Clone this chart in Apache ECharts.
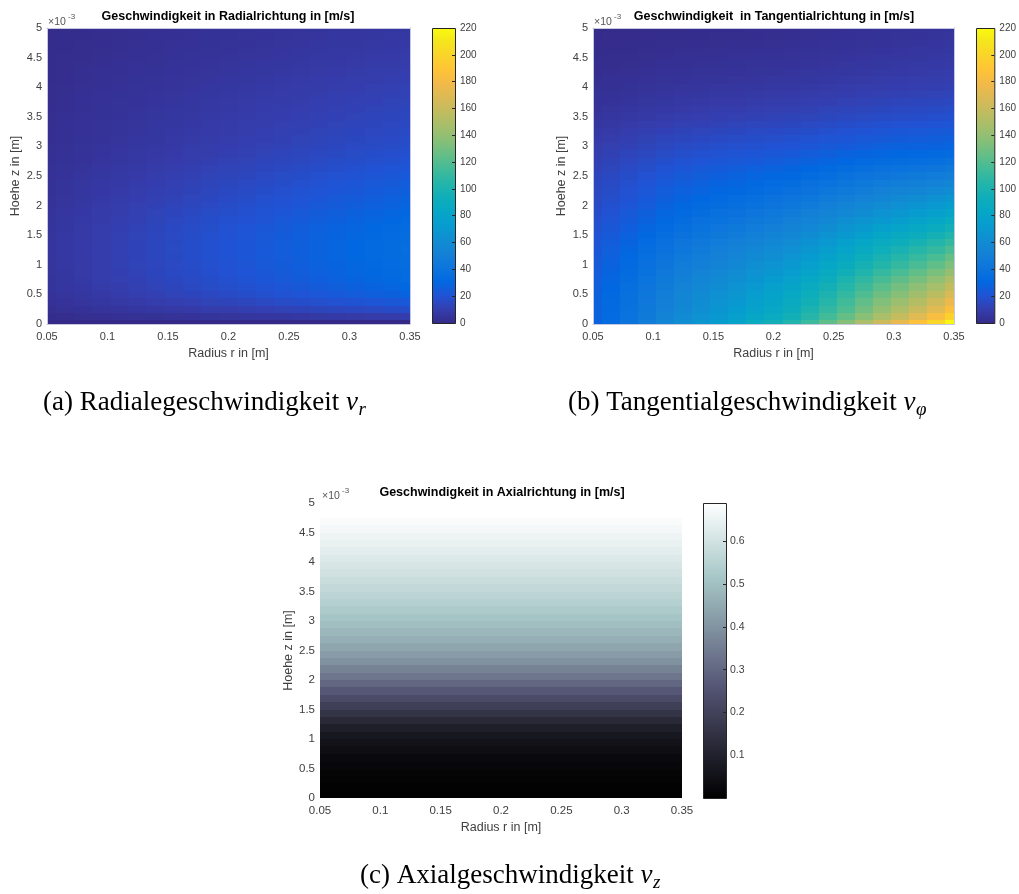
<!DOCTYPE html>
<html><head><meta charset="utf-8">
<script src="https://cdn.jsdelivr.net/npm/echarts@6/dist/echarts.min.js"></script>
<style>html,body{margin:0;padding:0;background:#fff}#c{width:1019px;height:894px}</style>
</head><body><div id="c"></div>
<script>
// ---- data ----
// shared grid for (a) and (b)
const rCols = [0.05,0.065,0.08,0.095,0.11,0.125,0.14,0.155,0.17,0.185,0.2,0.215,0.23,0.245,0.26,0.275,0.29,0.305,0.32,0.335,0.35];
const zRows = [0,0.125,0.25,0.375,0.5,0.625,0.75,0.875,1,1.125,1.25,1.375,1.5,1.625,1.75,1.875,2,2.125,2.25,2.375,2.5,2.625,2.75,2.875,3,3.125,3.25,3.375,3.5,3.625,3.75,3.875,4,4.125,4.25,4.375,4.5,4.625,4.75,4.875,5]; // x 1e-3 m

// (a) radial velocity v_r [m/s], one row per z (bottom to top)
const vRadial = [
 [0,0,0,0,0,0,0,0,0,0,0,0,0,0,0,0,0,0,0,0,0],
 [1.7,2.1,2.5,2.9,3.4,3.8,4.2,4.6,5,5.5,5.9,6.3,6.7,7.1,7.6,8,8.4,8.8,9.2,9.7,10.1],
 [3,3.8,4.5,5.3,6,6.8,7.5,8.3,9,9.8,10.5,11.3,12,12.8,13.5,14.3,15,15.8,16.5,17.3,18],
 [4,5,6,7,8,9,10.1,11.1,12.1,13.1,14.1,15.1,16.1,17.1,18.1,19.1,20.1,21.1,22.1,23.1,24.1],
 [4.8,6,7.2,8.4,9.6,10.8,12,13.2,14.4,15.6,16.8,18,19.2,20.4,21.6,22.8,24,25.2,26.4,27.6,28.8],
 [5.3,6.6,7.9,9.2,10.5,11.8,13.1,14.4,15.8,17.1,18.4,19.7,21,22.3,23.6,24.9,26.3,27.6,28.9,30.2,31.5],
 [5.6,7,8.4,9.8,11.2,12.6,14,15.3,16.7,18.1,19.5,20.9,22.3,23.7,25.1,26.5,27.9,29.3,30.7,32.1,33.5],
 [5.8,7.2,8.6,10.1,11.5,13,14.4,15.8,17.3,18.7,20.2,21.6,23,24.5,25.9,27.4,28.8,30.2,31.7,33.1,34.6],
 [5.9,7.4,8.8,10.3,11.8,13.2,14.7,16.2,17.6,19.1,20.6,22.1,23.5,25,26.5,27.9,29.4,30.9,32.3,33.8,35.3],
 [6,7.4,8.9,10.4,11.9,13.4,14.9,16.4,17.9,19.4,20.9,22.3,23.8,25.3,26.8,28.3,29.8,31.3,32.8,34.3,35.7],
 [6,7.5,9,10.5,12,13.5,15,16.5,18,19.5,21,22.5,24,25.5,27,28.5,30,31.5,33,34.5,36],
 [6,7.5,9,10.4,11.9,13.4,14.9,16.4,17.9,19.4,20.9,22.4,23.9,25.4,26.9,28.4,29.9,31.3,32.8,34.3,35.8],
 [5.9,7.4,8.8,10.3,11.8,13.2,14.7,16.2,17.6,19.1,20.6,22.1,23.5,25,26.5,27.9,29.4,30.9,32.3,33.8,35.3],
 [5.7,7.2,8.6,10,11.5,12.9,14.3,15.8,17.2,18.6,20.1,21.5,22.9,24.4,25.8,27.2,28.7,30.1,31.5,33,34.4],
 [5.5,6.9,8.3,9.7,11,12.4,13.8,15.2,16.6,17.9,19.3,20.7,22.1,23.5,24.8,26.2,27.6,29,30.4,31.7,33.1],
 [5.3,6.6,7.9,9.2,10.5,11.8,13.2,14.5,15.8,17.1,18.4,19.7,21,22.4,23.7,25,26.3,27.6,28.9,30.3,31.6],
 [5,6.2,7.5,8.7,10,11.2,12.5,13.7,14.9,16.2,17.4,18.7,19.9,21.2,22.4,23.7,24.9,26.1,27.4,28.6,29.9],
 [4.7,5.9,7.1,8.3,9.5,10.7,11.9,13,14.2,15.4,16.6,17.8,19,20.1,21.3,22.5,23.7,24.9,26.1,27.3,28.4],
 [4.5,5.6,6.8,7.9,9,10.1,11.3,12.4,13.5,14.6,15.8,16.9,18,19.1,20.3,21.4,22.5,23.6,24.8,25.9,27],
 [4.3,5.3,6.4,7.5,8.5,9.6,10.7,11.7,12.8,13.8,14.9,16,17,18.1,19.2,20.2,21.3,22.4,23.4,24.5,25.6],
 [4,5,6,7,8,9,10.1,11.1,12.1,13.1,14.1,15.1,16.1,17.1,18.1,19.1,20.1,21.1,22.1,23.1,24.1],
 [3.8,4.7,5.6,6.6,7.5,8.4,9.4,10.3,11.3,12.2,13.1,14.1,15,15.9,16.9,17.8,18.8,19.7,20.6,21.6,22.5],
 [3.5,4.4,5.2,6.1,7,7.8,8.7,9.6,10.4,11.3,12.2,13.1,13.9,14.8,15.7,16.5,17.4,18.3,19.1,20,20.9],
 [3.3,4.1,4.9,5.7,6.5,7.4,8.2,9,9.8,10.6,11.4,12.3,13.1,13.9,14.7,15.5,16.4,17.2,18,18.8,19.6],
 [3.1,3.8,4.6,5.4,6.1,6.9,7.7,8.4,9.2,9.9,10.7,11.5,12.2,13,13.8,14.5,15.3,16.1,16.8,17.6,18.4],
 [2.9,3.6,4.4,5.1,5.8,6.5,7.3,8,8.7,9.5,10.2,10.9,11.6,12.4,13.1,13.8,14.6,15.3,16,16.7,17.5],
 [2.8,3.5,4.1,4.8,5.5,6.2,6.9,7.6,8.3,9,9.7,10.4,11,11.7,12.4,13.1,13.8,14.5,15.2,15.9,16.6],
 [2.6,3.3,4,4.6,5.3,5.9,6.6,7.3,7.9,8.6,9.2,9.9,10.6,11.2,11.9,12.5,13.2,13.9,14.5,15.2,15.8],
 [2.5,3.2,3.8,4.4,5,5.7,6.3,6.9,7.6,8.2,8.8,9.5,10.1,10.7,11.3,12,12.6,13.2,13.9,14.5,15.1],
 [2.4,3,3.6,4.2,4.8,5.4,6,6.6,7.2,7.8,8.4,9,9.6,10.2,10.8,11.4,12,12.6,13.2,13.8,14.4],
 [2.3,2.9,3.4,4,4.6,5.1,5.7,6.3,6.8,7.4,8,8.6,9.1,9.7,10.3,10.8,11.4,12,12.5,13.1,13.7],
 [2.2,2.7,3.2,3.8,4.3,4.9,5.4,5.9,6.5,7,7.6,8.1,8.6,9.2,9.7,10.3,10.8,11.3,11.9,12.4,13],
 [2,2.6,3.1,3.6,4.1,4.6,5.1,5.6,6.1,6.6,7.1,7.7,8.2,8.7,9.2,9.7,10.2,10.7,11.2,11.7,12.2],
 [1.9,2.4,2.9,3.4,3.8,4.3,4.8,5.3,5.8,6.2,6.7,7.2,7.7,8.2,8.6,9.1,9.6,10.1,10.6,11,11.5],
 [1.8,2.3,2.7,3.2,3.6,4.1,4.5,5,5.4,5.9,6.3,6.8,7.2,7.7,8.1,8.6,9,9.5,9.9,10.4,10.8],
 [1.7,2.1,2.5,2.9,3.4,3.8,4.2,4.6,5,5.5,5.9,6.3,6.7,7.1,7.6,8,8.4,8.8,9.2,9.7,10.1],
 [1.6,2,2.3,2.7,3.1,3.5,3.9,4.3,4.7,5.1,5.5,5.9,6.2,6.6,7,7.4,7.8,8.2,8.6,9,9.4],
 [1.5,1.8,2.2,2.6,2.9,3.3,3.7,4,4.4,4.8,5.1,5.5,5.9,6.2,6.6,7,7.4,7.7,8.1,8.5,8.8],
 [1.4,1.7,2.1,2.4,2.8,3.1,3.5,3.8,4.1,4.5,4.8,5.2,5.5,5.9,6.2,6.6,6.9,7.2,7.6,7.9,8.3],
 [1.3,1.6,1.9,2.3,2.6,2.9,3.2,3.5,3.9,4.2,4.5,4.8,5.2,5.5,5.8,6.1,6.5,6.8,7.1,7.4,7.7],
 [1.2,1.5,1.8,2.1,2.4,2.7,3,3.3,3.6,3.9,4.2,4.5,4.8,5.1,5.4,5.7,6,6.3,6.6,6.9,7.2]
];

// (b) tangential velocity v_phi [m/s]
const vTangential = [
 [29,35,41.5,48.5,56,63,69,75,81,88,95,103,113,124,136,149,162,174,187,201,218],
 [28.5,34.1,40.2,46.7,53.7,60.1,65.6,71.0,76.4,82.7,89.0,96.2,105.2,115.0,125.8,137.4,148.9,159.4,170.8,183.1,198],
 [28,33.3,39.1,45.3,52.0,58.0,63.2,68.2,73.2,79.1,84.9,91.5,99.9,109.0,118.9,129.6,140.2,149.9,160.3,171.4,185],
 [27.8,32.9,38.5,44.6,50.9,56.8,61.7,66.4,71.2,76.7,82.2,88.5,96.4,105.0,114.4,124.4,134.3,143.3,153.0,163.3,176],
 [27.5,32.4,37.8,43.7,49.8,55.4,60.0,64.6,69.0,74.3,79.4,85.3,92.8,100.9,109.7,119.1,128.4,136.7,145.7,155.3,167],
 [26.8,31.5,36.7,42.3,48.2,53.5,57.9,62.2,66.4,71.4,76.3,81.8,88.9,96.5,104.8,113.7,122.4,130.2,138.6,147.5,158.5],
 [26,30.5,35.5,40.8,46.4,51.5,55.7,59.7,63.7,68.4,73.0,78.2,84.8,92.0,99.9,108.2,116.4,123.7,131.4,139.8,150],
 [25.3,29.6,34.4,39.4,44.8,49.6,53.6,57.4,61.1,65.5,69.8,74.7,80.9,87.7,95.0,102.8,110.4,117.1,124.3,132.0,141.5],
 [24.5,28.6,33.1,38.0,43.1,47.6,51.3,54.9,58.4,62.5,66.5,71.1,76.9,83.2,90.0,97.3,104.3,110.6,117.2,124.3,133],
 [23.8,27.7,32.0,36.7,41.5,45.9,49.4,52.7,56.0,59.9,63.6,67.9,73.4,79.3,85.7,92.4,99.0,104.8,110.9,117.4,125.5],
 [23,26.7,30.8,35.2,39.8,44.0,47.3,50.4,53.5,57.1,60.6,64.6,69.7,75.2,81.2,87.5,93.6,98.9,104.6,110.6,118],
 [22,25.5,29.4,33.6,37.9,41.8,44.9,47.8,50.7,54.1,57.3,61.1,65.8,71.0,76.5,82.4,88.0,92.9,98.1,103.7,110.5],
 [21,24.3,28.0,31.9,36.0,39.6,42.5,45.2,47.9,51.1,54.1,57.5,62.0,66.7,71.8,77.2,82.5,86.9,91.7,96.7,103],
 [20,23.1,26.5,30.2,34.1,37.4,40.1,42.7,45.1,48.0,50.8,54.0,58.1,62.4,67.1,72.1,76.9,81.0,85.3,89.8,95.5],
 [19,21.8,25.1,28.5,32.1,35.3,37.7,40.1,42.3,45.0,47.5,50.4,54.2,58.2,62.5,67.0,71.3,75.0,78.8,82.9,88],
 [18,20.7,23.7,26.9,30.3,33.2,35.5,37.7,39.7,42.2,44.5,47.2,50.6,54.3,58.3,62.4,66.4,69.7,73.2,76.9,81.5],
 [17,19.5,22.3,25.3,28.4,31.1,33.3,35.2,37.1,39.4,41.5,44.0,47.1,50.5,54.1,57.8,61.4,64.4,67.6,70.9,75],
 [16.2,18.5,21.2,24.0,26.9,29.4,31.3,33.1,34.8,36.9,38.8,41.0,43.8,46.8,50.1,53.5,56.6,59.3,62.0,64.9,68.5],
 [15.5,17.6,20.1,22.7,25.4,27.7,29.5,31.1,32.6,34.4,36.1,38.1,40.6,43.3,46.2,49.2,52.0,54.2,56.5,58.9,62],
 [14.8,16.8,19.1,21.5,24.0,26.1,27.7,29.2,30.5,32.2,33.7,35.4,37.7,40.0,42.6,45.2,47.6,49.5,51.4,53.4,56],
 [14,15.8,17.9,20.2,22.4,24.4,25.8,27.1,28.3,29.7,31.0,32.6,34.5,36.6,38.8,41.1,43.1,44.7,46.3,47.9,50],
 [13,14.6,16.6,18.6,20.7,22.4,23.7,24.8,25.9,27.2,28.3,29.6,31.4,33.2,35.1,37.0,38.8,40.1,41.4,42.8,44.5],
 [12,13.5,15.2,17.1,18.9,20.5,21.6,22.6,23.5,24.6,25.6,26.7,28.2,29.8,31.4,33.0,34.5,35.5,36.6,37.6,39],
 [11,12.3,13.9,15.6,17.2,18.6,19.6,20.5,21.3,22.3,23.1,24.1,25.4,26.8,28.2,29.6,30.8,31.7,32.5,33.4,34.5],
 [10,11.2,12.6,14.1,15.6,16.8,17.6,18.4,19.1,19.9,20.6,21.5,22.6,23.7,24.9,26.1,27.2,27.8,28.5,29.1,30],
 [9,10.1,11.3,12.7,14.0,15.1,15.9,16.6,17.2,17.9,18.6,19.3,20.3,21.4,22.5,23.5,24.4,25.1,25.6,26.2,27],
 [8,9.0,10.1,11.3,12.5,13.5,14.2,14.8,15.4,16.0,16.6,17.3,18.3,19.2,20.2,21.2,22.0,22.6,23.2,23.7,24.5],
 [7,7.8,8.9,9.9,11.0,11.9,12.5,13.0,13.6,14.2,14.7,15.3,16.2,17.0,17.9,18.8,19.7,20.2,20.7,21.3,22],
 [6,6.7,7.6,8.5,9.5,10.2,10.8,11.3,11.7,12.3,12.8,13.4,14.1,14.9,15.7,16.5,17.3,17.8,18.3,18.8,19.5],
 [5.2,5.9,6.6,7.4,8.2,8.9,9.4,9.9,10.3,10.8,11.2,11.8,12.4,13.1,13.9,14.6,15.3,15.8,16.3,16.8,17.5],
 [4.5,5.1,5.7,6.4,7.2,7.8,8.2,8.6,9.0,9.4,9.8,10.3,10.9,11.5,12.2,12.9,13.5,14.0,14.4,14.9,15.5],
 [3.9,4.4,5.0,5.6,6.2,6.8,7.2,7.5,7.8,8.2,8.6,9.0,9.5,10.1,10.7,11.3,11.9,12.3,12.7,13.1,13.7],
 [3.3,3.7,4.2,4.8,5.3,5.8,6.1,6.4,6.7,7.1,7.4,7.7,8.2,8.7,9.3,9.8,10.3,10.7,11.1,11.5,12],
 [2.8,3.2,3.6,4.1,4.6,5.0,5.3,5.6,5.8,6.2,6.4,6.8,7.2,7.7,8.2,8.7,9.2,9.6,10.0,10.4,10.9],
 [2.4,2.7,3.1,3.5,4.0,4.3,4.6,4.8,5.1,5.4,5.6,6.0,6.4,6.8,7.3,7.7,8.2,8.5,8.9,9.3,9.8],
 [2,2.3,2.6,3.0,3.4,3.7,3.9,4.2,4.4,4.7,4.9,5.2,5.6,6.0,6.4,6.8,7.3,7.6,8.0,8.4,8.9],
 [1.7,2.0,2.3,2.6,2.9,3.2,3.4,3.6,3.8,4.1,4.3,4.6,4.9,5.3,5.7,6.1,6.5,6.8,7.2,7.5,8],
 [1.4,1.6,1.9,2.1,2.4,2.7,2.9,3.1,3.3,3.5,3.7,3.9,4.3,4.6,5.0,5.3,5.7,6.0,6.4,6.8,7.2],
 [1.1,1.3,1.5,1.7,2.0,2.2,2.4,2.6,2.7,2.9,3.1,3.4,3.6,4.0,4.3,4.7,5.0,5.3,5.7,6.1,6.5],
 [0.8,1.0,1.1,1.3,1.5,1.7,1.9,2.1,2.2,2.4,2.6,2.8,3.1,3.4,3.7,4.1,4.5,4.8,5.2,5.5,6],
 [0.6,0.7,0.9,1.1,1.2,1.4,1.6,1.7,1.9,2.0,2.2,2.4,2.7,3.0,3.3,3.6,4.0,4.3,4.7,5.0,5.5]
];

// (c) axial velocity v_z [m/s] (same at every radius), rows centred at zAxial
const zAxial = [0.0625,0.1875,0.3125,0.4375,0.5625,0.6875,0.8125,0.9375,1.0625,1.1875,1.3125,1.4375,1.5625,1.6875,1.8125,1.9375,2.0625,2.1875,2.3125,2.4375,2.5625,2.6875,2.8125,2.9375,3.0625,3.1875,3.3125,3.4375,3.5625,3.6875,3.8125,3.9375,4.0625,4.1875,4.3125,4.4375,4.5625,4.6875];
const vAxial = [0.002,0.006,0.011,0.017,0.024,0.032,0.042,0.055,0.072,0.095,0.125,0.16,0.195,0.23,0.265,0.3,0.335,0.365,0.395,0.42,0.443,0.464,0.482,0.499,0.514,0.529,0.544,0.558,0.572,0.586,0.599,0.611,0.623,0.635,0.646,0.657,0.668,0.68];

const titles = ['Geschwindigkeit in Radialrichtung in [m/s]', 'Geschwindigkeit  in Tangentialrichtung in [m/s]', 'Geschwindigkeit in Axialrichtung in [m/s]'];
const captions = ['(a) Radialegeschwindigkeit ', '(b) Tangentialgeschwindigkeit ', '(c) Axialgeschwindigkeit '];
const captionSubs = ['r', 'φ', 'z'];
const xName = 'Radius r in [m]';
const yName = 'Hoehe z in [m]';

// ---- styles ----
const parula = ['#352a87','#353dad','#2053d4','#0268e1','#0d75dc','#1481d6','#108ed2','#079ccf','#06a7c6','#0faeb9','#25b5a9','#42bb98','#65be86','#87bf77','#a5be6b','#c0bc60','#d9ba56','#f1b94a','#ffc337','#fad32a','#f5e41d','#f9fb0e'];
const bone = ['#000000','#1c1c26','#38384d','#545474','#707a8f','#8ba1ab','#a7c7c7','#d3e3e3','#ffffff'];
const FS = '"Liberation Sans", Arial, sans-serif';
const SERIF = '"Liberation Serif", "Times New Roman", serif';
const LBL = '#404040';

function table2d(rows, rs, zs) {
  const out = [];
  rows.forEach((row, j) => row.forEach((v, k) => out.push([rs[k], zs[j], v])));
  return out;
}
const dataA = table2d(vRadial, rCols, zRows);
const dataB = table2d(vTangential, rCols, zRows);
const dataC = [];
zAxial.forEach((z, j) => rCols.forEach(r => dataC.push([r, z, vAxial[j]])));

function cells(dr, dz) {
  return function (params, api) {
    const r = api.value(0), z = api.value(1);
    const x0 = Math.max(0.05, r - dr / 2), x1 = Math.min(0.35, r + dr / 2);
    const y0 = Math.max(0, z - dz / 2), y1 = Math.min(5, z + dz / 2);
    const p0 = api.coord([x0, y0]), p1 = api.coord([x1, y1]);
    const L = Math.round(p0[0]), R = Math.round(p1[0]), T = Math.round(p1[1]), B = Math.round(p0[1]);
    return { type: 'rect', shape: { x: L, y: T, width: R - L, height: B - T },
      style: { fill: api.visual('color'), stroke: null } };
  };
}
function colorbar(stops) {
  return function (params, api) {
    const cs = params.coordSys;
    return { type: 'rect', shape: { x: cs.x + 0.5, y: cs.y + 0.5, width: cs.width, height: cs.height },
      style: { fill: new echarts.graphic.LinearGradient(0, 1, 0, 0, stops.map((c, i) => ({ offset: i / (stops.length - 1), color: c }))),
        stroke: '#262626', lineWidth: 1 } };
  };
}

const grids = [
  { left: 47, top: 28, width: 363, height: 296 },
  { left: 432, top: 28, width: 23, height: 295 },
  { left: 593, top: 28, width: 361, height: 296 },
  { left: 976, top: 28, width: 23, height: 295 },
  { left: 320, top: 503, width: 362, height: 295 },
  { left: 703, top: 503, width: 23, height: 295 }
];
const BOX = '#c6c8e2';

function plotX(gi, lineOn, fs) {
  return {
    gridIndex: gi, type: 'value', min: 0.05, max: 0.35, interval: 0.05, z: 10,
    name: xName, nameLocation: 'middle', nameGap: 23,
    nameTextStyle: { fontSize: 12.5, color: LBL, fontFamily: FS },
    axisLine: { show: lineOn, onZero: false, lineStyle: { color: BOX, width: 1 } }, axisTick: { show: false },
    axisLabel: { fontSize: fs, color: LBL, fontFamily: FS, margin: 7 }, splitLine: { show: false }
  };
}
function plotY(gi, lineOn, fs) {
  return {
    gridIndex: gi, type: 'value', min: 0, max: 5, interval: 0.5, z: 10,
    name: yName, nameLocation: 'middle', nameGap: 25,
    nameTextStyle: { fontSize: 12.5, color: LBL, fontFamily: FS },
    axisLine: { show: lineOn, onZero: false, lineStyle: { color: BOX, width: 1 } }, axisTick: { show: false },
    axisLabel: { fontSize: fs, color: LBL, fontFamily: FS, margin: 5 }, splitLine: { show: false }
  };
}
function boxX(gi) { return { gridIndex: gi, type: 'value', min: 0.05, max: 0.35, position: 'top', z: 10, axisLine: { show: true, onZero: false, lineStyle: { color: BOX } }, axisTick: { show: false }, axisLabel: { show: false }, splitLine: { show: false } }; }
function boxY(gi) { return { gridIndex: gi, type: 'value', min: 0, max: 5, position: 'right', z: 10, axisLine: { show: true, onZero: false, lineStyle: { color: BOX } }, axisTick: { show: false }, axisLabel: { show: false }, splitLine: { show: false } }; }
function cbX(gi) { return { gridIndex: gi, type: 'value', min: 0, max: 1, show: false }; }
function cbY(gi, max, interval, fs, margin, fmt) {
  return { gridIndex: gi, type: 'value', min: 0, max: max, interval: interval, position: 'right', z: 10,
    axisLine: { show: false, onZero: false },
    axisTick: { show: true, inside: true, length: 3, lineStyle: { color: '#262626' } },
    axisLabel: { fontSize: fs, color: LBL, fontFamily: FS, margin: margin, formatter: fmt, showMaxLabel: fmt ? false : true },
    splitLine: { show: false } };
}

const xAxis = [plotX(0, true, 11), boxX(0), cbX(1), plotX(2, true, 11), boxX(2), cbX(3), plotX(4, false, 11.5), cbX(5)];
const yAxis = [plotY(0, true, 11), boxY(0), cbY(1, 220, 20, 10, 5), plotY(2, true, 11), boxY(2), cbY(3, 220, 20, 10, 5),
  plotY(4, false, 11.5), cbY(5, 0.69, 0.1, 10.5, 4, v => (v > 0.05 && Math.abs(v * 10 - Math.round(v * 10)) < 1e-6) ? v.toFixed(1) : '')];

const dims = ['r', 'z', 'v'];
const series = [
  { type: 'custom', xAxisIndex: 0, yAxisIndex: 0, dimensions: dims, encode: { x: 0, y: 1 }, data: dataA, renderItem: cells(rCols[1] - rCols[0], zRows[1] - zRows[0]), silent: true },
  { type: 'custom', xAxisIndex: 3, yAxisIndex: 3, dimensions: dims, encode: { x: 0, y: 1 }, data: dataB, renderItem: cells(rCols[1] - rCols[0], zRows[1] - zRows[0]), silent: true },
  { type: 'custom', xAxisIndex: 6, yAxisIndex: 6, dimensions: dims, encode: { x: 0, y: 1 }, data: dataC, renderItem: cells(rCols[1] - rCols[0], zAxial[1] - zAxial[0]), silent: true },
  { type: 'custom', xAxisIndex: 2, yAxisIndex: 2, data: [[0.5, 110]], renderItem: colorbar(parula), silent: true },
  { type: 'custom', xAxisIndex: 5, yAxisIndex: 5, data: [[0.5, 110]], renderItem: colorbar(parula), silent: true },
  { type: 'custom', xAxisIndex: 7, yAxisIndex: 7, data: [[0.5, 0.3]], renderItem: colorbar(bone), silent: true }
];

const visualMap = [
  { type: 'continuous', show: false, seriesIndex: 0, dimension: 2, min: 0, max: 220, inRange: { color: parula } },
  { type: 'continuous', show: false, seriesIndex: 1, dimension: 2, min: 0, max: 220, inRange: { color: parula } },
  { type: 'continuous', show: false, seriesIndex: 2, dimension: 2, min: 0, max: 0.69, inRange: { color: bone } }
];

function txt(x, y, s, font, fill, align) {
  return { type: 'text', x: x, y: y, z: 20, style: { text: s, font: font, fill: fill, textAlign: align || 'left', verticalAlign: 'middle' } };
}
const mctx = document.createElement('canvas').getContext('2d');
function caption(x, y, label, sub, size, centre) {
  const fMain = size + 'px ' + SERIF, fIt = 'italic ' + size + 'px ' + SERIF, fSub = 'italic ' + Math.round(size * 0.7) + 'px ' + SERIF;
  mctx.font = fMain; const w = mctx.measureText(label).width;
  mctx.font = fIt; const wv = mctx.measureText('v').width;
  mctx.font = fSub; const ws = mctx.measureText(sub).width;
  if (centre) x = x - (w + wv + ws) / 2;
  return [txt(x, y, label, fMain, '#000'), txt(x + w, y, 'v', fIt, '#000'), txt(x + w + wv + 0.5, y + 7, sub, fSub, '#000')];
}
function expo(x, y) {
  return [txt(x, y + 2, '×10', '10.5px ' + FS, '#555'), txt(x + 20, y - 3, '-3', '8px ' + FS, '#555')];
}

const graphic = [].concat(
  txt(228, 17, titles[0], 'bold 12.5px ' + FS, '#000', 'center'),
  txt(774, 17, titles[1], 'bold 12.5px ' + FS, '#000', 'center'),
  txt(502, 493, titles[2], 'bold 12.5px ' + FS, '#000', 'center'),
  expo(48, 20), expo(594, 20), expo(322, 494),
  caption(43, 403, captions[0], captionSubs[0], 27),
  caption(568, 403, captions[1], captionSubs[1], 27),
  caption(510, 876, captions[2], captionSubs[2], 27, true)
);

const chart = echarts.init(document.getElementById('c'), null, { renderer: 'canvas' });
chart.setOption({ animation: false, backgroundColor: '#fff', grid: grids, xAxis: xAxis, yAxis: yAxis, visualMap: visualMap, series: series, graphic: graphic });
</script></body></html>
